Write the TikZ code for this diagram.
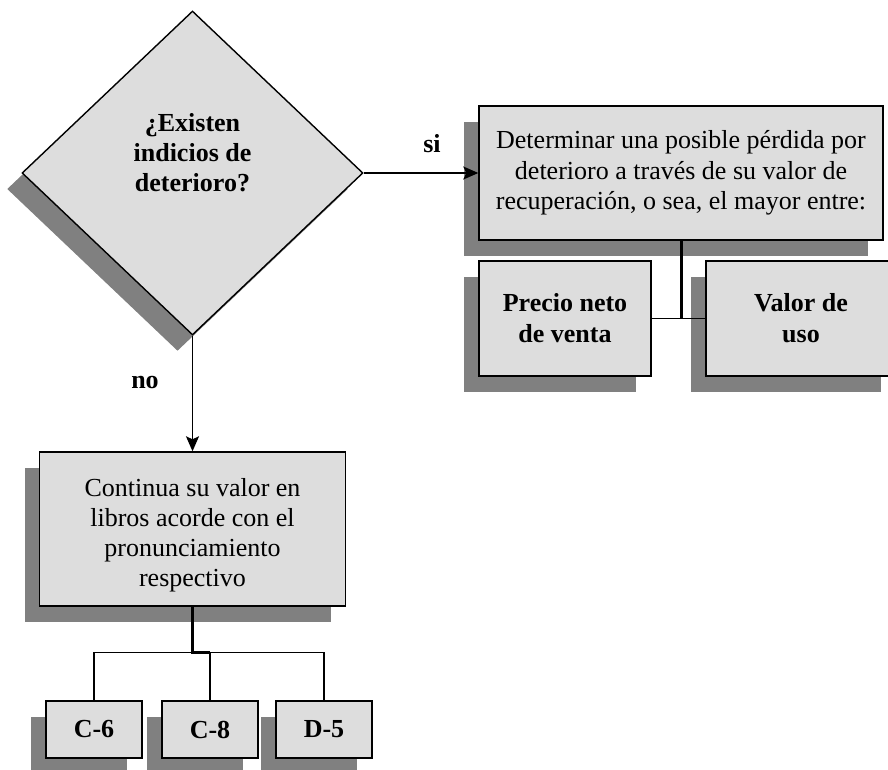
\documentclass[tikz,border=0pt]{standalone}
\usepackage{fontspec}
\setmainfont{Liberation Serif}
\usetikzlibrary{shapes.geometric,shadows,arrows.meta}
\definecolor{boxgray}{HTML}{DDDDDD}
\definecolor{shadegray}{HTML}{808080}
\begin{document}
\begin{tikzpicture}[x=1pt, y=-1pt, line width=1.4pt,
  shaded/.style = {draw, fill=boxgray, inner sep=0pt, align=center,
    drop shadow={shadow xshift=-15pt, shadow yshift=-16pt, fill=shadegray, opacity=1}},
  box/.style = {shaded, rectangle, font=\fontsize{26}{30.5}\selectfont},
  boldbox/.style = {box, font=\fontsize{26}{31}\selectfont\bfseries},
  decision/.style = {shaded, diamond, minimum width=341pt, minimum height=324pt},
  tag/.style = {font=\fontsize{26}{30}\selectfont\bfseries, align=center, inner sep=0pt},
  arrow/.style = {-{Stealth[length=15pt, width=13pt, inset=3pt]}},
  bar/.style = {line width=3pt}]
  \useasboundingbox (0,0) rectangle (888,770);
  % decision
  \node[decision] (ask) at (192.5,173) {};
  \node[tag] (asktext) at (192.5,153) {¿Existen\\indicios de\\deterioro?};
  % branch "si"
  \node[box, minimum width=404pt, minimum height=134pt] (determ) at (681,173)
    {Determinar una posible pérdida por\\deterioro a través de su valor de\\recuperación, o sea, el mayor entre:};
  \node[boldbox, minimum width=172pt, minimum height=115pt] (precio) at (565,318.5) {Precio neto\\de venta};
  \node[boldbox, minimum width=190pt, minimum height=115pt] (uso) at (801,318.5) {Valor de\\uso};
  % branch "no"
  \node[box, minimum width=306pt, minimum height=154pt, text height=120pt,
    font=\fontsize{26}{30}\selectfont] (sigue) at (192.5,529)
    {Continua su valor en\\libros acorde con el\\pronunciamiento\\respectivo};
  \node[boldbox, minimum width=96pt, minimum height=57pt] (c6) at (94,729.5) {C-6};
  \node[boldbox, minimum width=96pt, minimum height=57pt] (c8) at (210,729.5) {C-8};
  \node[boldbox, minimum width=96pt, minimum height=57pt] (d5) at (324,729.5) {D-5};
  \node[tag] (si) at (432,144) {si};
  \node[tag] (no) at (145,382) {no};
  % connectors
  \draw[arrow] (ask.east) -- (determ.west);
  \draw[arrow] (ask.south) -- (sigue.north);
  \draw[bar] (determ.south) -- (determ.south |- precio.east);
  \draw (precio.east) -- (uso.west);
  \coordinate (hub) at ([yshift=48pt]c8.north);
  \draw (c6.north) |- (hub) -| (d5.north);
  \draw (c8.north) -- (hub);
  \draw[bar] (sigue.south) |- (hub);
\end{tikzpicture}
\end{document}
